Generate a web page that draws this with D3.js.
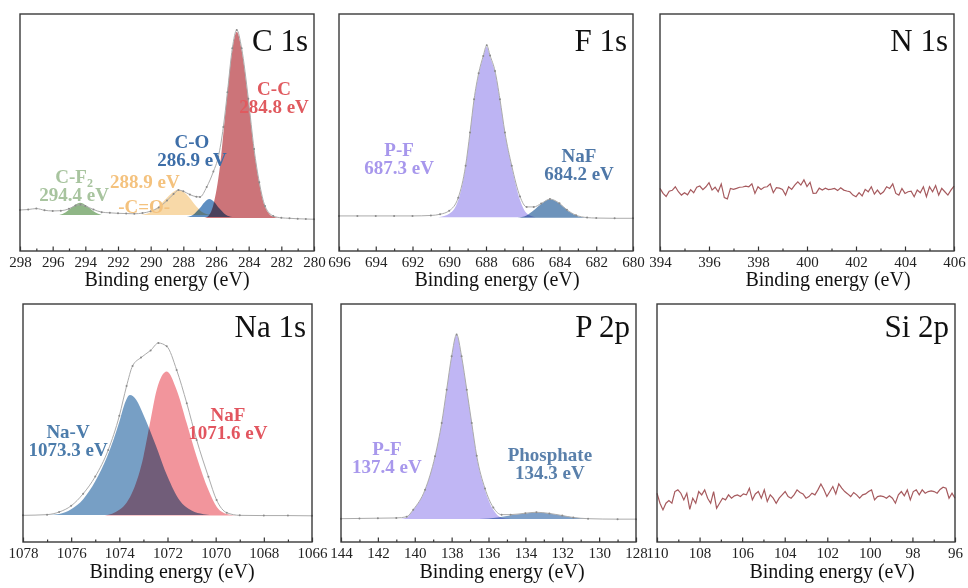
<!DOCTYPE html>
<html lang="en">
<head>
<meta charset="UTF-8">
<script src="https://cdn.jsdelivr.net/npm/d3@7"></script>
<title>XPS spectra</title>
<style>
  body { margin: 0; background: #fff; }
  text { font-family: "Liberation Serif", "Times New Roman", serif; }
</style>
</head>
<body>
<svg id="chart" width="968" height="588"></svg>
<script>
// ---- tick labels (binding energy, eV) ----
const c1sTicks = [298, 296, 294, 292, 290, 288, 286, 284, 282, 280];
const f1sTicks = [696, 694, 692, 690, 688, 686, 684, 682, 680];
const n1sTicks = [394, 396, 398, 400, 402, 404, 406];
const na1sTicks = [1078, 1076, 1074, 1072, 1070, 1068, 1066];
const p2pTicks = [144, 142, 140, 138, 136, 134, 132, 130, 128];
const si2pTicks = [110, 108, 106, 104, 102, 100, 98, 96];

// ---- C 1s : [eV, intensity a.u.] ----
const c1sEnvelope = [[298,17.3],[297.5,17.5],[297,17.9],[296.5,17.2],[296,16.9],[295.5,17.0],[295,17.8],[294.6,19.2],[294.3,19.6],[294,19.0],[293.5,17.5],[293,16.4],[292.5,16.1],[292,15.9],[291.5,15.8],[291,15.7],[290.5,16.0],[290,16.8],[289.5,18.4],[289,21.3],[288.6,24.0],[288.3,25.7],[288,25.2],[287.6,23.8],[287.2,22.9],[286.98,22.8],[286.57,27.0],[286.16,33.5],[285.86,39.7],[285.55,52.3],[285.3,67.0],[285,85.5],[284.73,93.3],[284.43,85.5],[284.02,64.2],[283.67,43.0],[283.35,29.0],[283,19.0],[282.5,14.8],[282,14.0],[281.5,13.8],[281,13.6],[280.5,13.5],[280,13.4]];
const c1sCC = [[286.8,13.9],[286.5,14.6],[286.16,19.5],[285.76,35.6],[285.35,63.7],[285,84.8],[284.73,92.5],[284.43,84.8],[284.02,63.7],[283.67,42.6],[283.35,28.6],[283,18.7],[282.5,14.5],[282,13.9]];
const c1sCO = [[287.8,14.3],[287.4,15.3],[287,18.0],[286.7,20.6],[286.41,21.9],[286.1,20.6],[285.8,18.0],[285.4,15.3],[285,14.3]];
const c1sCeqO = [[290.6,15.2],[290,16.5],[289.5,19.0],[289,22.5],[288.6,25.0],[288.31,26.0],[288,25.0],[287.6,22.3],[287.2,18.8],[286.8,16.2],[286.3,15.2]];
const c1sCF2 = [[295.6,15.2],[295.2,16.4],[294.8,18.6],[294.33,20.4],[293.9,19.0],[293.5,16.8],[293,15.2]];

// ---- F 1s ----
const f1sEnvelope = [[696,14.8],[695,14.8],[694,14.8],[693,14.8],[692,14.8],[691,15.0],[690.5,15.5],[690,17.0],[689.51,22.5],[689.11,36.0],[688.87,50.0],[688.65,64.0],[688.4,75.0],[688.15,82.3],[687.96,86.8],[687.78,82.5],[687.51,76.0],[687.24,64.0],[686.97,50.0],[686.6,36.0],[686.15,23.0],[685.79,18.6],[685.4,18.6],[685,20.0],[684.52,21.9],[684,20.1],[683.6,17.4],[683.1,15.1],[682.5,14.1],[682,13.9],[681,13.8],[680,13.8]];
const f1sPF = [[690.6,14.2],[689.96,15.9],[689.51,21.5],[689.11,35.6],[688.87,49.7],[688.65,63.7],[688.4,74.5],[688.15,82.0],[687.96,86.2],[687.78,82.0],[687.51,75.5],[687.24,63.7],[686.97,49.7],[686.6,35.6],[686.15,21.5],[685.79,15.9],[685.3,14.2]];
const f1sNaF = [[686.3,14.0],[685.8,15.0],[685.4,17.2],[685,19.8],[684.52,21.8],[684,20.0],[683.6,17.3],[683.1,15.0],[682.5,14.0]];

// ---- N 1s (fixed step scan) ----
const n1sStart = 394, n1sStep = 0.125;
const n1sCounts = [26.4,24.3,23.0,25.2,25.6,27.1,25.0,23.6,24.6,23.7,
  25.9,24.6,26.9,27.4,25.9,27.1,28.8,25.7,26.9,25.0,
  28.3,22.5,22.0,26.4,26.0,26.4,26.9,27.0,27.4,27.1,
  28.3,24.3,27.1,26.0,26.9,27.1,28.3,24.6,26.7,26.5,
  26.0,23.6,27.1,26.0,27.8,29.2,27.8,30.0,27.2,29.0,
  24.3,24.4,26.5,25.7,26.5,25.9,26.1,26.4,25.5,26.7,
  25.7,25.3,25.0,23.6,22.9,24.6,23.2,26.0,25.0,27.1,
  24.0,25.7,24.0,25.0,27.1,26.4,28.3,24.3,23.6,26.4,
  24.3,25.0,25.2,22.9,25.7,24.6,27.1,22.9,27.1,25.0,
  27.6,23.6,26.4,25.0,23.6,25.7,27.4];

// ---- Na 1s ----
const na1sEnvelope = [[1078,11.2],[1077,11.5],[1076.5,12.6],[1076,15.2],[1075.5,20.3],[1075,27.5],[1074.46,38.7],[1074,53.0],[1073.7,65.5],[1073.45,74.0],[1073.1,77.5],[1072.7,80.5],[1072.38,83.6],[1072.03,82.2],[1071.62,72.3],[1071.2,58.3],[1070.79,42.9],[1070.3,27.4],[1069.96,17.6],[1069.54,12.3],[1069,11.2],[1068,11.1],[1067,11.1],[1066,11.0]];
const na1sNaV = [[1077,11.3],[1076.5,11.8],[1076,13.8],[1075.5,18.0],[1075,25.5],[1074.5,36.0],[1074,50.5],[1073.8,57.5],[1073.56,61.8],[1073.3,59.8],[1073,53.5],[1072.5,41.0],[1072,27.5],[1071.5,17.5],[1071,13.2],[1070.5,11.7],[1070,11.3]];
const na1sNaF = [[1074.6,11.1],[1074,13.5],[1073.7,16.5],[1073.42,21.8],[1073,35.8],[1072.73,49.9],[1072.45,63.9],[1072.03,71.6],[1071.62,63.9],[1071.2,49.9],[1070.79,35.8],[1070.3,21.8],[1069.96,14.8],[1069.54,11.8],[1069,11.1]];

// ---- P 2p ----
const p2pEnvelope = [[144,9.8],[143,9.9],[142,10.0],[141,10.1],[140.44,10.6],[140.08,13.6],[139.44,22.0],[138.9,36.0],[138.54,50.0],[138.27,64.0],[138,78.0],[137.73,87.2],[137.46,78.0],[137.18,64.0],[136.91,50.0],[136.64,36.2],[136.19,22.5],[135.74,14.5],[135.29,11.5],[134.8,11.5],[134,12.1],[133.4,12.5],[132.7,12.0],[132,11.1],[131.4,10.3],[130.6,9.8],[129,9.6],[128,9.6]];
const p2pPF = [[140.8,9.7],[140.44,10.2],[140.08,13.5],[139.44,21.9],[138.9,35.9],[138.54,49.9],[138.27,63.9],[138,77.9],[137.73,87.0],[137.46,77.9],[137.18,63.9],[136.91,49.9],[136.64,35.9],[136.19,21.9],[135.74,13.5],[135.29,10.2],[134.8,9.7]];
const p2pPhosphate = [[136.5,9.7],[135.5,10.3],[134.8,11.2],[134,12.0],[133.4,12.4],[132.7,12.0],[132,11.1],[131.4,10.3],[130.6,9.7]];

// ---- Si 2p (fixed step scan, high to low BE) ----
const si2pStart = 110, si2pStep = -0.14;
const si2pCounts = [20.5,16.3,13.5,16.3,17.4,16.3,21.2,21.9,20.5,17.7,
  20.5,13.7,18.4,16.3,21.2,19.8,21.9,18.4,16.3,21.2,
  14.2,16.3,18.4,17.7,19.8,18.4,19.4,19.8,19.1,20.2,
  19.8,22.6,17.7,20.2,21.2,18.4,21.9,17.0,19.8,18.4,
  16.3,18.4,19.8,21.2,19.1,18.4,19.8,21.9,20.8,20.2,
  18.4,19.1,20.5,19.8,21.9,24.4,22.1,19.1,21.2,23.3,
  20.2,24.4,22.6,21.2,20.2,19.1,20.8,19.8,18.4,19.8,
  20.2,21.2,21.9,17.7,19.1,19.4,19.1,18.4,19.4,18.4,
  16.3,19.8,21.2,19.4,21.9,17.7,21.2,21.9,19.8,21.9,
  20.5,21.2,21.5,21.2,20.5,22.1,23.0,22.6,18.4,20.5,
  18.4];

// ---- peak annotations: text lines and anchor [eV, intensity] ----
const c1sLabels = [
  { lines: ["C-C", "284.8 eV"], at: [282.45, 65.8], color: "#e05a5f" },
  { lines: ["C-O", "286.9 eV"], at: [287.47, 43.5], color: "#3d6ea8" },
  { lines: ["C-F_2", "294.4 eV"], at: [294.69, 28.7], color: "#a8c49f" },
  { lines: ["288.9 eV"], at: [290.35, 26.6], color: "#f4c27e" },
  { lines: ["-C=O-"], at: [290.4, 16.0], color: "#f4c27e" }
];
const f1sLabels = [
  { lines: ["P-F", "687.3 eV"], at: [692.73, 40.1], color: "#a797ec" },
  { lines: ["NaF", "684.2 eV"], at: [682.94, 37.6], color: "#4f78a8" }
];
const na1sLabels = [
  { lines: ["Na-V", "1073.3 eV"], at: [1076.13, 43.7], color: "#4c7cab" },
  { lines: ["NaF", "1071.6 eV"], at: [1069.49, 50.8], color: "#e2555f" }
];
const p2pLabels = [
  { lines: ["P-F", "137.4 eV"], at: [141.51, 36.6], color: "#a898ec" },
  { lines: ["Phosphate", "134.3 eV"], at: [132.67, 34.0], color: "#5a80ab" }
];

const n1sData = n1sCounts.map((v, i) => [n1sStart + i * n1sStep, v]);
const si2pData = si2pCounts.map((v, i) => [si2pStart + i * si2pStep, v]);

// panel layout
const panels = [
  { title: "C 1s", domain: [298, 280], box: [20, 14, 294, 237], ticks: c1sTicks, axisX: 167, row: 0,
    comps: [
      { pts: c1sCF2, floor: 15.2, fill: "#8fb686" },
      { pts: c1sCeqO, floor: 15.2, fill: "#f8d9a8" },
      { pts: c1sCC, floor: 13.9, fill: "#cc7479" },
      { pts: c1sCO, floor: 14.3, fill: "#5f8fc2" }
    ],
    envelope: c1sEnvelope, labels: c1sLabels },
  { title: "F 1s", domain: [696, 680], box: [339, 14, 294, 237], ticks: f1sTicks, axisX: 497, row: 0,
    comps: [
      { pts: f1sPF, floor: 14.2, fill: "#bdb4f3" },
      { pts: f1sNaF, floor: 14.0, fill: "#6d93bb" }
    ],
    envelope: f1sEnvelope, labels: f1sLabels },
  { title: "N 1s", domain: [394, 406], box: [660, 14, 294, 237], ticks: n1sTicks, axisX: 828, row: 0,
    noise: n1sData },
  { title: "Na 1s", domain: [1078, 1066], box: [23, 304, 289, 238], ticks: na1sTicks, axisX: 172, row: 1,
    comps: [
      { pts: na1sNaV, floor: 11.3, fill: "#779fc5" },
      { pts: na1sNaF, floor: 11.1, fill: "#f2959c" }
    ],
    envelope: na1sEnvelope, labels: na1sLabels },
  { title: "P 2p", domain: [144, 128], box: [341, 304, 295, 238], ticks: p2pTicks, axisX: 502, row: 1,
    comps: [
      { pts: p2pPF, floor: 9.7, fill: "#c0b6f4" },
      { pts: p2pPhosphate, floor: 9.7, fill: "#7d9fc8" }
    ],
    envelope: p2pEnvelope, labels: p2pLabels },
  { title: "Si 2p", domain: [110, 96], box: [657, 304, 298, 238], ticks: si2pTicks, axisX: 832, row: 1,
    noise: si2pData }
];

const titleBase = [51, 337];
const axisTitleBase = [286, 578];

const svg = d3.select("#chart");

panels.forEach(p => {
  const [bx, by, bw, bh] = p.box;
  const x = d3.scaleLinear().domain(p.domain).range([bx, bx + bw]);
  const y = d3.scaleLinear().domain([0, 100]).range([by + bh, by]);
  const g = svg.append("g");

  // fitted components
  (p.comps || []).forEach(c => {
    const area = d3.area()
      .x(d => x(d[0]))
      .y0(y(c.floor))
      .y1(d => y(d[1]))
      .curve(d3.curveMonotoneX);
    g.append("path").datum(c.pts)
      .attr("d", area)
      .attr("fill", c.fill)
      .style("mix-blend-mode", "multiply");
  });

  // envelope + measured points
  if (p.envelope) {
    const line = d3.line().x(d => x(d[0])).y(d => y(d[1])).curve(d3.curveMonotoneX);
    g.append("path").datum(p.envelope)
      .attr("d", line)
      .attr("fill", "none")
      .attr("stroke", "#ababab")
      .attr("stroke-width", 1);
    g.selectAll("circle.pt").data(p.envelope).join("circle")
      .attr("class", "pt")
      .attr("cx", d => x(d[0]))
      .attr("cy", d => y(d[1]))
      .attr("r", 1)
      .attr("fill", "#8a8a8a");
  }

  // flat survey noise
  if (p.noise) {
    g.append("path").datum(p.noise)
      .attr("d", d3.line().x(d => x(d[0])).y(d => y(d[1])))
      .attr("fill", "none")
      .attr("stroke", "#a65a5e")
      .attr("stroke-width", 1.2);
  }

  // labels
  (p.labels || []).forEach(l => {
    l.lines.forEach((s, i) => {
      const t = g.append("text")
        .attr("x", x(l.at[0]))
        .attr("y", y(l.at[1]) + i * 18)
        .attr("text-anchor", "middle")
        .attr("font-size", "19px")
        .attr("font-weight", "bold")
        .attr("fill", l.color);
      const parts = s.split("_");
      t.append("tspan").text(parts[0]);
      if (parts[1]) {
        t.append("tspan").attr("font-size", "12px").attr("dy", 4).text(parts[1]);
      }
    });
  });

  // inward ticks on bottom axis
  const minor = d3.pairs(p.ticks).map(([a, b]) => (a + b) / 2);
  const axMinor = g.append("g")
    .attr("transform", `translate(0,${by + bh})`)
    .call(d3.axisBottom(x).tickValues(minor).tickSize(-2.5).tickFormat(""));
  const axMajor = g.append("g")
    .attr("transform", `translate(0,${by + bh})`)
    .call(d3.axisBottom(x).tickValues(p.ticks).tickSize(-4.5).tickPadding(5).tickFormat(d3.format("d")));
  [axMinor, axMajor].forEach(a => {
    a.select(".domain").remove();
    a.selectAll("line").attr("stroke", "#333").attr("stroke-width", 1.2);
  });
  axMajor.selectAll("text")
    .attr("font-size", "15px")
    .attr("fill", "#222")
    .style("font-family", "'Liberation Serif', serif");

  // frame
  g.append("rect")
    .attr("x", bx).attr("y", by).attr("width", bw).attr("height", bh)
    .attr("fill", "none")
    .attr("stroke", "#3a3a3a")
    .attr("stroke-width", 1.4);

  // panel title
  g.append("text")
    .attr("x", bx + bw - 6)
    .attr("y", titleBase[p.row])
    .attr("text-anchor", "end")
    .attr("font-size", "31px")
    .attr("fill", "#111")
    .text(p.title);

  // axis title
  g.append("text")
    .attr("x", p.axisX)
    .attr("y", axisTitleBase[p.row])
    .attr("text-anchor", "middle")
    .attr("font-size", "20px")
    .attr("fill", "#111")
    .text("Binding energy (eV)");
});
</script>
</body>
</html>
